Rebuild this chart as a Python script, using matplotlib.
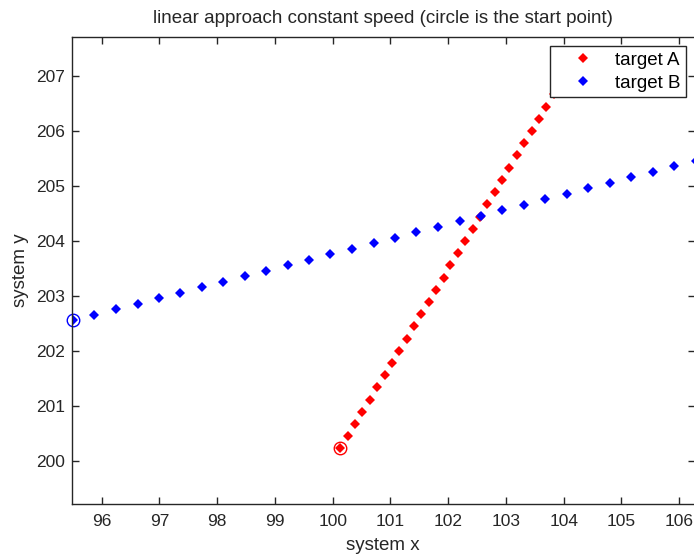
import matplotlib
matplotlib.use("Agg")
import matplotlib.pyplot as plt

# target A (red), first point is the start
a_x = [100.13, 100.26, 100.39, 100.51, 100.64, 100.77, 100.90, 101.02, 101.15, 101.28,
       101.41, 101.53, 101.66, 101.79, 101.92, 102.04, 102.17, 102.30, 102.43, 102.55,
       102.68, 102.81, 102.94, 103.06, 103.19, 103.32, 103.45, 103.57, 103.70, 103.83,
       103.96, 104.08, 104.21]
a_y = [200.22, 200.44, 200.66, 200.89, 201.11, 201.33, 201.55, 201.77, 202.00, 202.22,
       202.44, 202.66, 202.88, 203.11, 203.33, 203.55, 203.77, 203.99, 204.22, 204.44,
       204.66, 204.88, 205.10, 205.33, 205.55, 205.77, 205.99, 206.21, 206.44, 206.66,
       206.88, 207.10, 207.32]

# target B (blue)
b_x = [95.50, 95.87, 96.24, 96.62, 96.99, 97.36, 97.73, 98.10, 98.48, 98.85,
       99.22, 99.59, 99.96, 100.34, 100.71, 101.08, 101.45, 101.82, 102.20, 102.57,
       102.94, 103.31, 103.68, 104.06, 104.43, 104.80, 105.17, 105.54, 105.92, 106.29]
b_y = [202.55, 202.65, 202.75, 202.85, 202.95, 203.05, 203.15, 203.25, 203.35, 203.45,
       203.55, 203.65, 203.75, 203.85, 203.95, 204.05, 204.15, 204.25, 204.35, 204.45,
       204.55, 204.65, 204.75, 204.85, 204.95, 205.05, 205.15, 205.25, 205.35, 205.45]

x_ticks = [96, 97, 98, 99, 100, 101, 102, 103, 104, 105, 106]
y_ticks = [200, 201, 202, 203, 204, 205, 206, 207]

plt.rcParams['font.family'] = ['Liberation Sans', 'DejaVu Sans']
ink = '#262626'

fig = plt.figure(figsize=(6.94, 5.57), dpi=100)
ax = fig.add_axes([71.7 / 694, 1 - 504 / 557, 1 - 71.7 / 694 + 0.001, (504 - 37.3) / 557])

ax.plot(a_x, a_y, linestyle='none', marker='D', markersize=5, color='red',
        markeredgewidth=0, label='target A')
ax.plot(b_x, b_y, linestyle='none', marker='D', markersize=5, color='blue',
        markeredgewidth=0, label='target B')

# circle round the start point
ax.plot(a_x[0], a_y[0], linestyle='none', marker='o', markersize=9,
        markerfacecolor='none', markeredgecolor='red', markeredgewidth=1)
ax.plot(b_x[0], b_y[0], linestyle='none', marker='o', markersize=9,
        markerfacecolor='none', markeredgecolor='blue', markeredgewidth=1, clip_on=False)

ax.set_xlim(95.48, 106.27)
ax.set_ylim(199.21, 207.70)
ax.set_xticks(x_ticks)
ax.set_yticks(y_ticks)
ax.tick_params(direction='in', length=5, width=1, top=True, right=True,
               labelsize=12.5, colors=ink)
ax.tick_params(axis='x', pad=7)
ax.tick_params(axis='y', pad=5)
for s in ax.spines.values():
    s.set_color(ink)
    s.set_linewidth(1)

ax.set_xlabel('system x', fontsize=13.5, color=ink, labelpad=6)
ax.set_ylabel('system y', fontsize=13.5, color=ink, labelpad=5)
ax.set_title('linear approach constant speed (circle is the start point)',
             fontsize=13.5, color=ink, pad=10)

leg = ax.legend(loc='upper right', bbox_to_anchor=(686 / 694, 1 - 46 / 557),
                bbox_transform=fig.transFigure, fontsize=13.5, frameon=True,
                fancybox=False, edgecolor=ink, framealpha=1,
                borderpad=0.3, handlelength=2.9, handletextpad=0.25,
                labelspacing=0.3, borderaxespad=0)
leg.get_frame().set_linewidth(1)
leg.set_zorder(5)

fig.savefig('out.png', dpi=100)
